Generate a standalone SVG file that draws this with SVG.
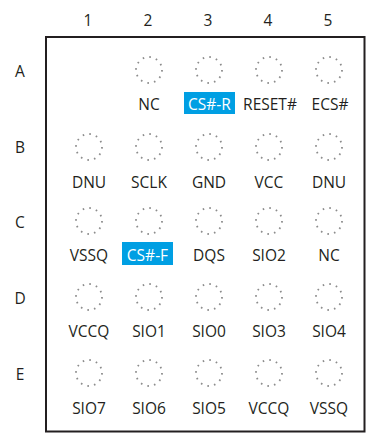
<svg xmlns="http://www.w3.org/2000/svg" width="366" height="433" viewBox="0 0 366 433">
<style>
text{font-family:"Open Sans","Liberation Sans",Arial,sans-serif;font-size:15.5px;fill:#231f20;text-anchor:middle}
.ax{font-size:15.5px}
.pin{fill:none;stroke:#8c8c8c;stroke-width:1.8;stroke-dasharray:1.6 5.2}
.hl{fill:#009fe3}
text.w{fill:#ffffff}
</style>
<rect width="366" height="433" fill="#ffffff"/>
<rect x="46" y="37" width="318.5" height="394.5" fill="none" stroke="#231f20" stroke-width="2"/>
<g id="col-labels">
<text class="ax" x="88" y="26">1</text>
<text class="ax" x="148" y="26">2</text>
<text class="ax" x="208" y="26">3</text>
<text class="ax" x="268" y="26">4</text>
<text class="ax" x="328" y="26">5</text>
</g>
<g id="row-labels">
<text class="ax" x="20" y="77">A</text>
<text class="ax" x="20" y="153">B</text>
<text class="ax" x="20" y="228">C</text>
<text class="ax" x="20" y="304">D</text>
<text class="ax" x="20" y="380">E</text>
</g>
<g id="A2"><circle class="pin" cx="149" cy="70" r="13"/><text x="149" y="110">NC</text></g>
<g id="A3"><circle class="pin" cx="209" cy="70" r="13"/><rect class="hl" x="184" y="92" width="51" height="22"/><text class="w" x="209.5" y="110">CS#-R</text></g>
<g id="A4"><circle class="pin" cx="269" cy="70" r="13"/><text x="270" y="110">RESET#</text></g>
<g id="A5"><circle class="pin" cx="329" cy="70" r="13"/><text x="330" y="110">ECS#</text></g>

<g id="B1"><circle class="pin" cx="89" cy="147" r="13"/><text x="89" y="188">DNU</text></g>
<g id="B2"><circle class="pin" cx="149" cy="147" r="13"/><text x="149" y="188">SCLK</text></g>
<g id="B3"><circle class="pin" cx="209" cy="147" r="13"/><text x="209" y="188">GND</text></g>
<g id="B4"><circle class="pin" cx="269" cy="147" r="13"/><text x="269" y="188">VCC</text></g>
<g id="B5"><circle class="pin" cx="329" cy="147" r="13"/><text x="329" y="188">DNU</text></g>

<g id="C1"><circle class="pin" cx="89" cy="221" r="13"/><text x="89" y="261">VSSQ</text></g>
<g id="C2"><circle class="pin" cx="149" cy="221" r="13"/><rect class="hl" x="122" y="242" width="51" height="23"/><text class="w" x="147.5" y="261">CS#-F</text></g>
<g id="C3"><circle class="pin" cx="209" cy="221" r="13"/><text x="209" y="261">DQS</text></g>
<g id="C4"><circle class="pin" cx="269" cy="221" r="13"/><text x="269" y="261">SIO2</text></g>
<g id="C5"><circle class="pin" cx="329" cy="221" r="13"/><text x="329" y="261">NC</text></g>

<g id="D1"><circle class="pin" cx="89" cy="297" r="13"/><text x="89" y="337">VCCQ</text></g>
<g id="D2"><circle class="pin" cx="149" cy="297" r="13"/><text x="149" y="337">SIO1</text></g>
<g id="D3"><circle class="pin" cx="209" cy="297" r="13"/><text x="209" y="337">SIO0</text></g>
<g id="D4"><circle class="pin" cx="269" cy="297" r="13"/><text x="269" y="337">SIO3</text></g>
<g id="D5"><circle class="pin" cx="329" cy="297" r="13"/><text x="329" y="337">SIO4</text></g>

<g id="E1"><circle class="pin" cx="89" cy="373" r="13"/><text x="89" y="414">SIO7</text></g>
<g id="E2"><circle class="pin" cx="149" cy="373" r="13"/><text x="149" y="414">SIO6</text></g>
<g id="E3"><circle class="pin" cx="209" cy="373" r="13"/><text x="209" y="414">SIO5</text></g>
<g id="E4"><circle class="pin" cx="269" cy="373" r="13"/><text x="269" y="414">VCCQ</text></g>
<g id="E5"><circle class="pin" cx="329" cy="373" r="13"/><text x="329" y="414">VSSQ</text></g>
<g id="connectors"/>
</svg>
